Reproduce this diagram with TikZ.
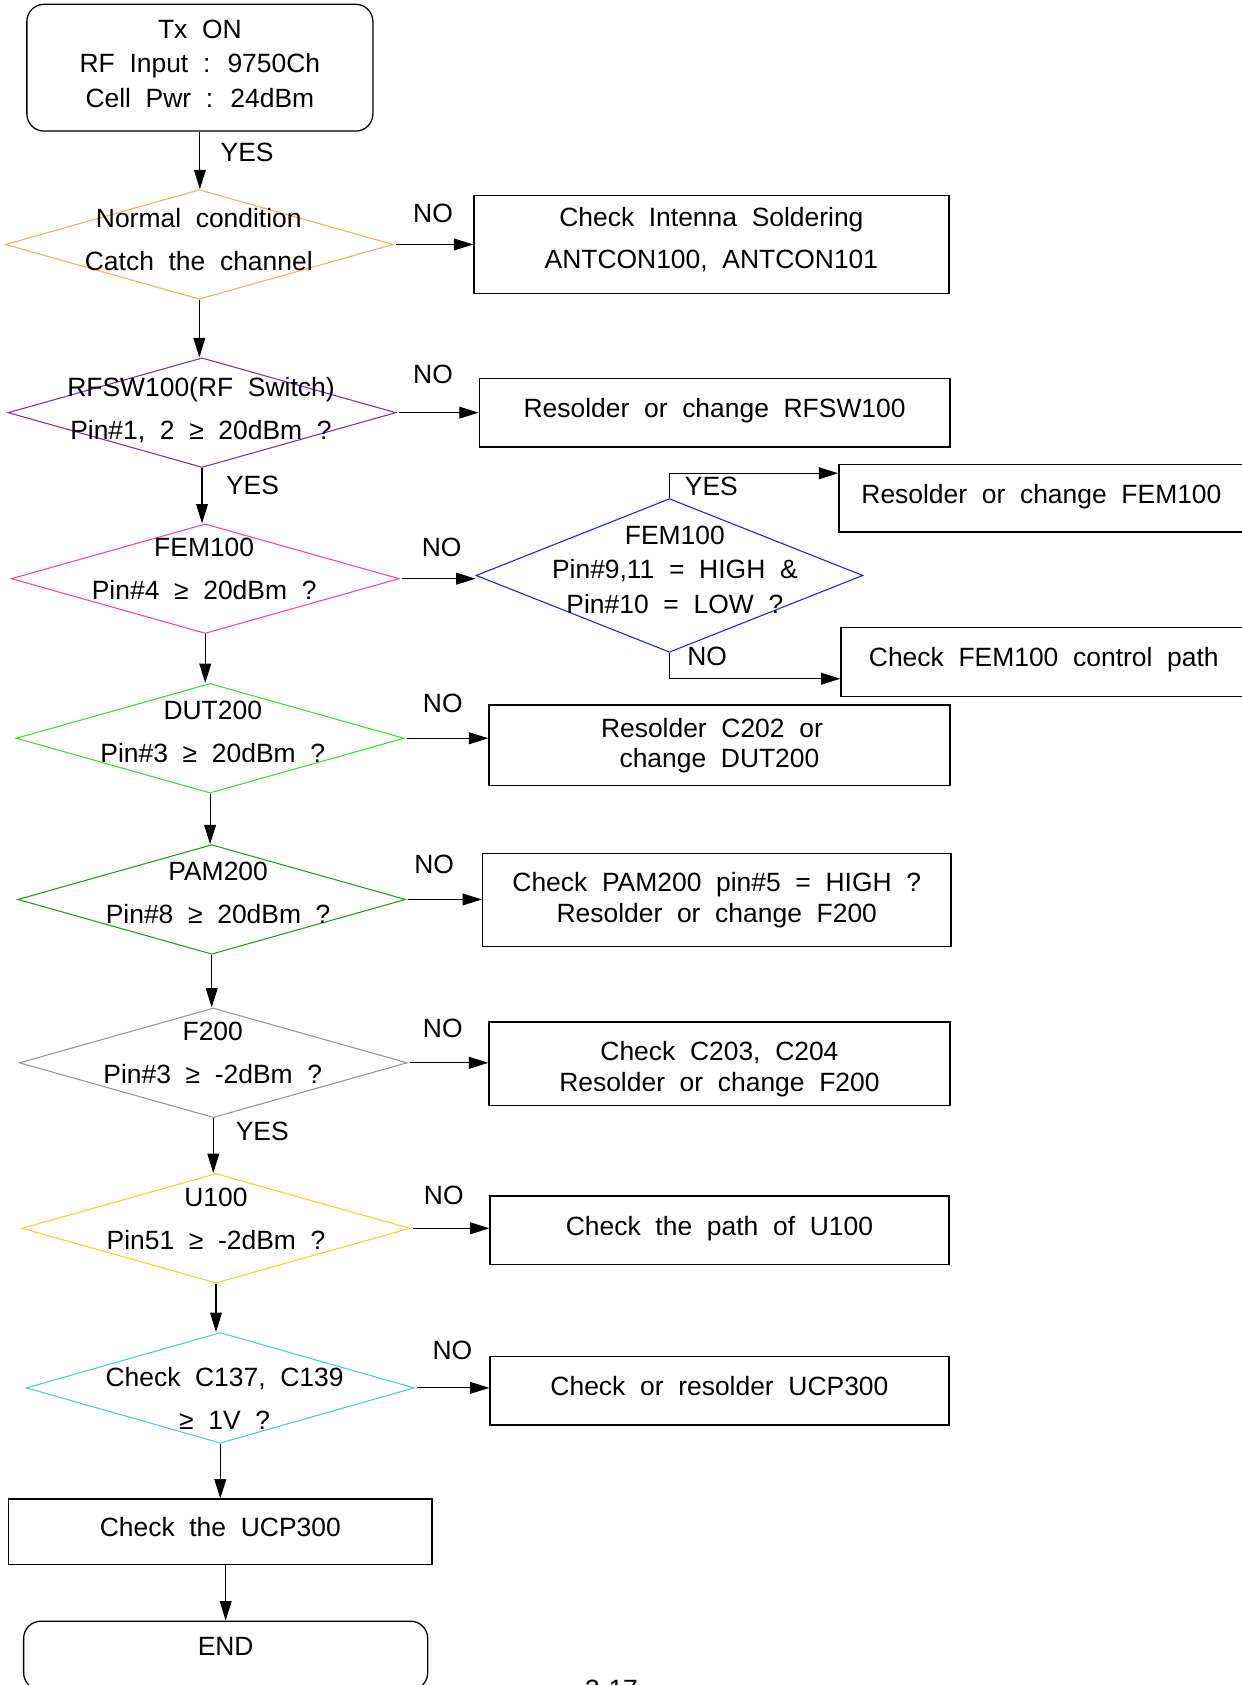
\documentclass[tikz,border=0pt]{standalone}
\usepackage{fontspec}
\setmainfont{Liberation Sans}[WordSpace=2]
\usepackage{tikz}
\usetikzlibrary{arrows.meta,positioning,shapes.geometric,calc}

\definecolor{cnorm}{RGB}{250,172,95}
\definecolor{crfsw}{RGB}{120,50,180}
\definecolor{cfem}{RGB}{255,64,160}
\definecolor{cctl}{RGB}{30,30,240}
\definecolor{cdut}{RGB}{50,225,50}
\definecolor{cpam}{RGB}{30,160,30}
\definecolor{cflt}{RGB}{150,150,150}
\definecolor{cu}{RGB}{255,208,30}
\definecolor{ccap}{RGB}{70,205,215}

\begin{document}
\begin{tikzpicture}[x=0.5pt, y=-0.5pt, >={Triangle[length=9pt,width=5.5pt]}, font=\fontsize{12.3}{14.5}\selectfont]
  \tikzstyle{box}=[draw, line width=0.6pt, align=center, inner sep=0pt]
  \tikzstyle{onebox}=[box, text height=8.6pt, text depth=4pt]
  \tikzstyle{term}=[box, rounded corners=8pt]
  \tikzstyle{dec}=[draw, diamond, inner sep=0pt, line width=0.5pt, minimum width=180.5pt, minimum height=51pt]
  \tikzstyle{txt}=[align=center, inner sep=0pt, font=\fontsize{12.3}{20}\selectfont]
  \tikzstyle{lbl}=[inner sep=0pt]
  \tikzstyle{arr}=[->, line width=0.5pt]

  \useasboundingbox (0,0) rectangle (1155,1568);

  % main column
  \node[term, minimum width=161pt, minimum height=59pt, text depth=4pt, font=\fontsize{12.3}{16}\selectfont] (start) at (186,63) {Tx ON\\RF Input : 9750Ch\\Cell Pwr : 24dBm};
  \node[dec, draw=cnorm] (d1) at (185.5,227.5) {};
  \node[txt] (d1t) at (185,223) {Normal condition\\Catch the channel};
  \node[dec, draw=crfsw] (d2) at (188,384) {};
  \node[txt] (d2t) at (187,382) {RFSW100(RF Switch)\\Pin\#1, 2 ≥ 20dBm ?};
  \node[dec, draw=cfem] (d3) at (191,538.5) {};
  \node[txt] (d3t) at (190,529) {FEM100\\Pin\#4 ≥ 20dBm ?};
  \node[dec, draw=cdut] (d5) at (195.5,687) {};
  \node[txt] (d5t) at (198,681) {DUT200\\Pin\#3 ≥ 20dBm ?};
  \node[dec, draw=cpam] (d6) at (197,837) {};
  \node[txt] (d6t) at (203,831) {PAM200\\Pin\#8 ≥ 20dBm ?};
  \node[dec, draw=cflt] (d7) at (198.5,989) {};
  \node[txt] (d7t) at (198,980) {F200\\Pin\#3 ≥ -2dBm ?};
  \node[dec, draw=cu] (d8) at (201,1143) {};
  \node[txt] (d8t) at (201,1134) {U100\\Pin51 ≥ -2dBm ?};
  \node[dec, draw=ccap, minimum height=51.5pt] (d9) at (205,1291.5) {};
  \node[txt] (d9t) at (209,1301) {Check C137, C139\\≥ 1V ?};
  \node[onebox, minimum width=197pt, minimum height=30.5pt] (b10) at (205,1425.5) {Check the UCP300};
  \node[term, anchor=north, minimum width=188pt, text height=15.75pt, text depth=16.25pt] (stop) at (210,1508) {END};

  % FEM100 control check
  \node[dec, draw=cctl, minimum width=180pt, minimum height=71.5pt] (d4) at (623,535.5) {};
  \node[txt, font=\fontsize{12.3}{16}\selectfont] (d4t) at (628,530) {FEM100\\Pin\#9,11 = HIGH \&\\Pin\#10 = LOW ?};

  % repair boxes
  \node[box, minimum width=221pt, minimum height=45.5pt, text depth=5.7pt, font=\fontsize{12.3}{19.5}\selectfont] (b1) at (662,227.5) {Check Intenna Soldering\\ANTCON100, ANTCON101};
  \node[onebox, minimum width=219pt, minimum height=32pt] (b2) at (665,384) {Resolder or change RFSW100};
  \node[onebox, anchor=west, inner xsep=10.5pt, minimum height=31.5pt] (b3) at (780,463.5) {\makebox[180pt][l]{Resolder or change FEM100}};
  \node[onebox, anchor=west, inner xsep=13pt, minimum height=32pt] (b4) at (782,616) {\makebox[180pt][l]{Check FEM100 control path}};
  \node[box, minimum width=214.5pt, minimum height=37.5pt, font=\fontsize{12.3}{14}\selectfont] (b5) at (669.5,693.5) {Resolder C202 or\hspace*{7pt}\\change DUT200};
  \node[box, minimum width=218pt, minimum height=43.5pt] (b6) at (667,837.5) {Check PAM200 pin\#5 = HIGH ?\\Resolder or change F200};
  \node[box, minimum width=214.5pt, minimum height=39pt, text height=28.25pt] (b7) at (669.5,990) {Check C203, C204\\Resolder or change F200};
  \node[onebox, minimum width=213.5pt, minimum height=32pt] (b8) at (669.5,1145) {Check the path of U100};
  \node[onebox, minimum width=213.5pt, minimum height=32pt] (b9) at (669.5,1294) {Check or resolder UCP300};

  % branch labels
  \node[lbl] (y0) at (230,142) {YES};
  \node[lbl] (n1) at (403,199) {NO};
  \node[lbl] (n2) at (403,348) {NO};
  \node[lbl] (y2) at (235,452) {YES};
  \node[lbl] (n3) at (411,509) {NO};
  \node[lbl] (y4) at (662,453) {YES};
  \node[lbl] (n4) at (658,611) {NO};
  \node[lbl] (n5) at (412,655) {NO};
  \node[lbl] (n6) at (404,804) {NO};
  \node[lbl] (n7) at (412,957) {NO};
  \node[lbl] (y7) at (244,1053) {YES};
  \node[lbl] (n8) at (413,1112) {NO};
  \node[lbl] (n9) at (421,1257) {NO};
  \node[lbl] (pg) at (569,1572) {3-17};

  % connectors
  \foreach \a/\b in {start/d1, d1/d2, d2/d3, d3/d5, d5/d6, d6/d7, d7/d8, d8/d9, d9/b10}
    \draw[arr] (\a.south) -- (\a.south |- \b.north);
  \draw[arr] (stop.north |- b10.south) -- (stop.north);
  \foreach \a/\b in {d1/b1, d2/b2, d3/d4, d5/b5, d6/b6, d7/b7, d8/b8, d9/b9}
    \draw[arr, shorten <=1pt] (\a.east) -- (\a.east -| \b.west);
  \draw[arr] (d4.north) |- ([yshift=-4.5pt]b3.north west);
  \draw[arr] (d4.south) |- ([yshift=8.5pt]b4.south west);
\end{tikzpicture}
\end{document}
